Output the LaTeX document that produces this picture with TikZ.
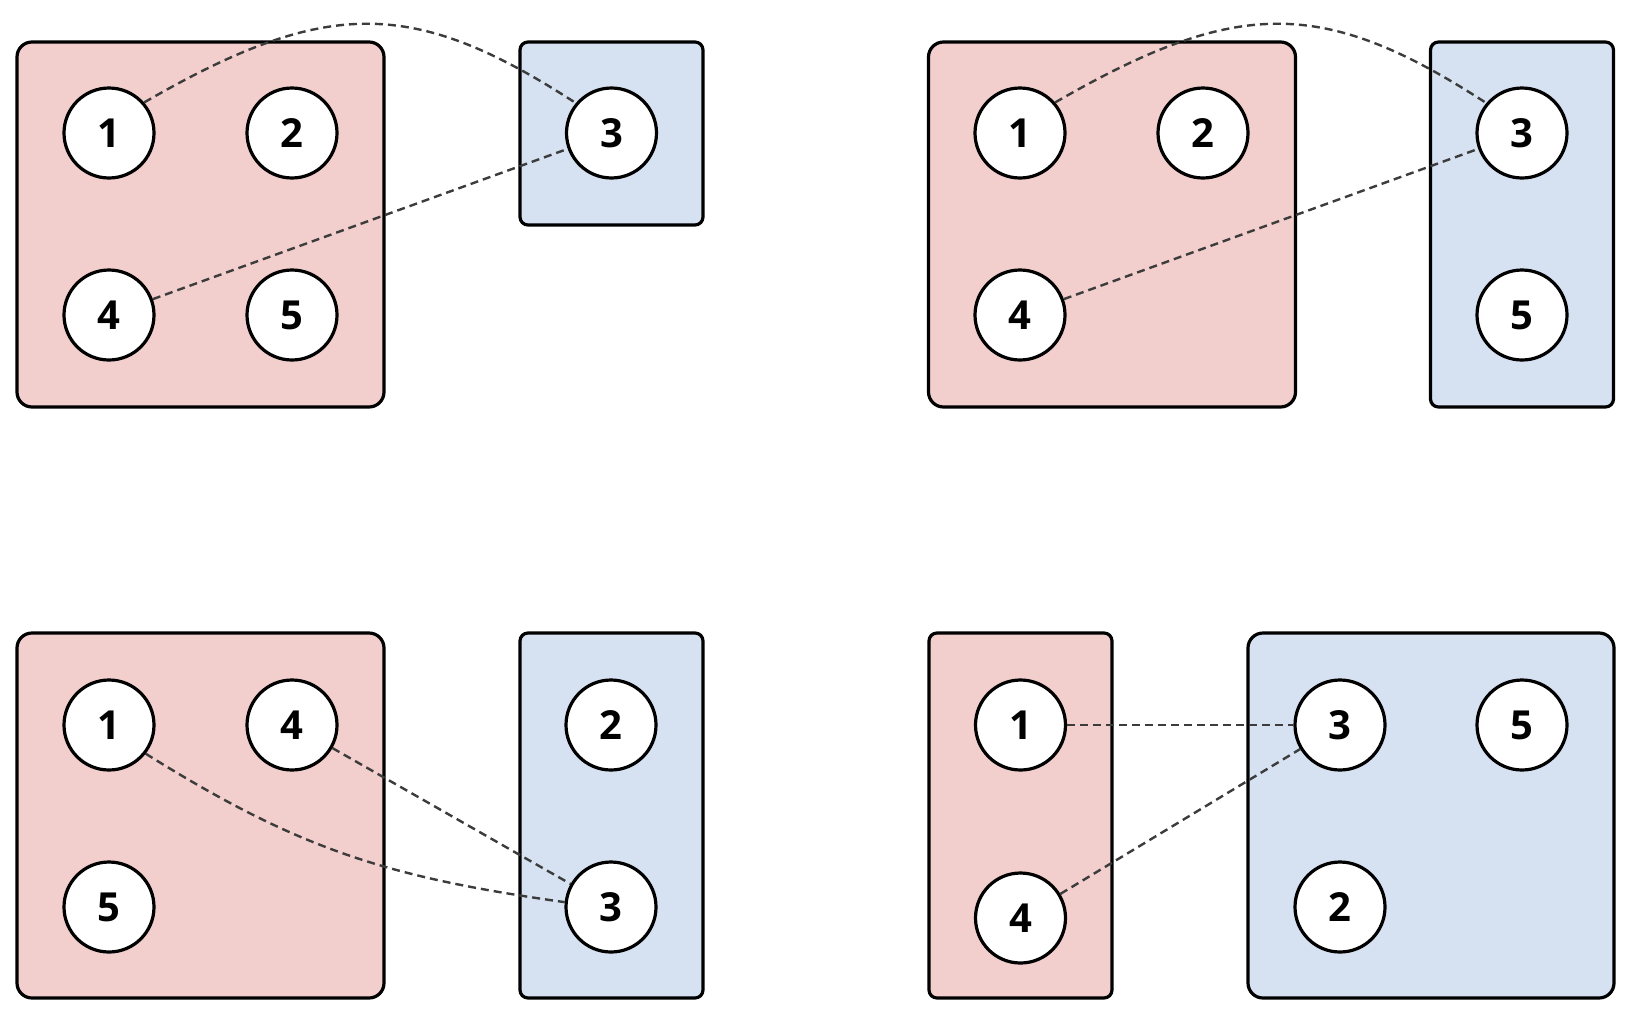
\documentclass[tikz,border=0pt]{standalone}
\usepackage{fontspec}
\newfontfamily\numfont{Open Sans}
\definecolor{pinkfill}{HTML}{F2CFCD}
\definecolor{bluefill}{HTML}{D6E2F2}
\definecolor{connclr}{HTML}{3C3C3C}
\begin{document}
\begin{tikzpicture}[x=1pt,y=1pt,
  box/.style={draw=black, line width=3.2pt, inner sep=0pt, outer sep=0pt},
  pinkbig/.style={box, fill=pinkfill, rounded corners=15pt, minimum width=367pt, minimum height=365pt},
  pinknarrow/.style={box, fill=pinkfill, rounded corners=8pt, minimum width=183pt, minimum height=365pt},
  bluebig/.style={box, fill=bluefill, rounded corners=15pt, minimum width=366pt, minimum height=365pt},
  bluenarrow/.style={box, fill=bluefill, rounded corners=8pt, minimum width=183pt, minimum height=365pt},
  bluesmall/.style={box, fill=bluefill, rounded corners=8pt, minimum width=183pt, minimum height=183pt},
  ball/.style={circle, draw=black, line width=3.2pt, fill=white, minimum size=90pt, inner sep=0pt,
    font=\numfont\bfseries\fontsize{40}{40}\selectfont},
  conn/.style={draw=connclr, line width=2.4pt, dash pattern=on 8pt off 5pt}
]
\useasboundingbox (0,0) rectangle (1644,-1020);

% ---------- top left ----------
\node[pinkbig]   (TLp) at (200.5,-224.5) {};
\node[bluesmall] (TLb) at (611.5,-133.5) {};
\node[ball] (a1) at (109,-133) {1};
\node[ball] (a2) at (292,-133) {2};
\node[ball] (a4) at (109,-315) {4};
\node[ball] (a5) at (292,-315) {5};
\node[ball] (a3) at (611.5,-133) {3};
\draw[conn] (a1.41) .. controls +(30:210) and +(147:194) .. (a3.140);
\draw[conn] (a4) -- (a3);

% ---------- top right ----------
\node[pinkbig]    (TRp) at (1112,-224.5) {};
\node[bluenarrow] (TRb) at (1522,-224.5) {};
\node[ball] (b1) at (1020,-133) {1};
\node[ball] (b2) at (1203,-133) {2};
\node[ball] (b4) at (1020,-315) {4};
\node[ball] (b3) at (1522,-133) {3};
\node[ball] (b5) at (1522,-315) {5};
\draw[conn] (b1.41) .. controls +(30:210) and +(147:194) .. (b3.140);
\draw[conn] (b4) -- (b3);

% ---------- bottom left ----------
\node[pinkbig]    (BLp) at (200.5,-815.5) {};
\node[bluenarrow] (BLb) at (611.5,-815.5) {};
\node[ball] (c1) at (109,-725) {1};
\node[ball] (c4) at (292,-725) {4};
\node[ball] (c5) at (109,-907) {5};
\node[ball] (c2) at (611,-725) {2};
\node[ball] (c3) at (611,-907) {3};
\draw[conn] (c1.-38) .. controls +(-32:180) and +(172:180) .. (c3.174);
\draw[conn] (c4) -- (c3);

% ---------- bottom right ----------
\node[pinknarrow] (BRp) at (1020.5,-815.5) {};
\node[bluebig]    (BRb) at (1431,-815.5) {};
\node[ball] (d1) at (1020.5,-725) {1};
\node[ball] (d4) at (1020.5,-918) {4};
\node[ball] (d3) at (1340,-725) {3};
\node[ball] (d5) at (1522,-725) {5};
\node[ball] (d2) at (1340,-907) {2};
\draw[conn] (d1) -- (d3);
\draw[conn] (d4) -- (d3);
\end{tikzpicture}
\end{document}
